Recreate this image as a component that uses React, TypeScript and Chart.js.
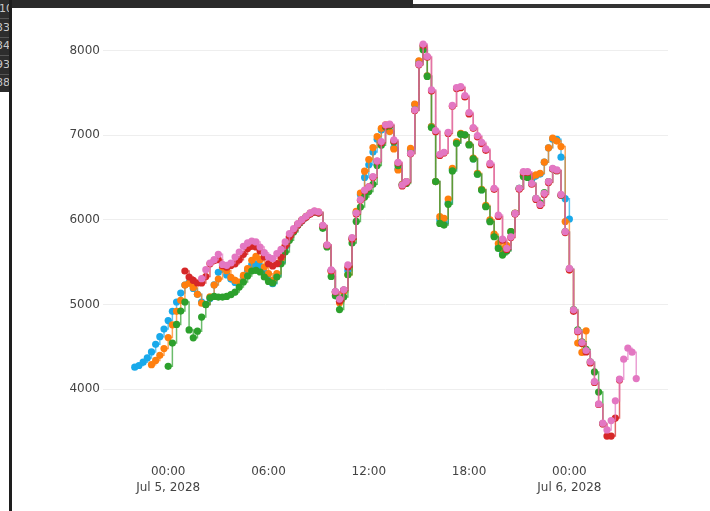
import React, { useEffect, useRef } from "react";
import { Chart, registerables } from "chart.js";

Chart.register(...registerables);

// Each run starts at its own hour (relative to Jul 5, 2028 00:00) and has a point every 15 minutes.
const seriesNames = ["trace 0", "trace 1", "trace 2", "trace 3", "trace 4"];
const seriesColors = ["#19a9ea", "#ff7f0e", "#2ca02c", "#d62728", "#e377c2"];
const startHours = [-2, -1, 0, 1, 2];
const stepHours = 0.25;

const blueValues = [
  4260, 4280, 4320, 4370, 4440, 4530, 4620, 4710, 4810, 4920, 5030, 5135, 5230, 5260, 5190, 5120,
  5030, 5000, 5070, 5233, 5380, 5420, 5350, 5300, 5260, 5260, 5330, 5400, 5470, 5480, 5455, 5380,
  5300, 5246, 5340, 5500, 5680, 5790, 5870, 5940, 5990, 6035, 6075, 6095, 6085, 5930, 5700, 5400,
  5150, 5040, 5170, 5400, 5780, 6090, 6300, 6500, 6650, 6800, 6950, 7060, 7110, 7050, 6850, 6600,
  6420, 6450, 6830, 7360, 7870, 8040, 7700, 7100, 6451, 6000, 5960, 6200, 6590, 6910, 7010, 7000,
  6890, 6720, 6540, 6355, 6160, 5985, 5810, 5680, 5600, 5640, 5860, 6076, 6372, 6520, 6520, 6480,
  6520, 6540, 6680, 6850, 6950, 6950, 6740, 6250, 6010,
];

const orangeValues = [
  4290, 4340, 4400, 4480, 4610, 4760, 4920, 5050, 5230, 5250, 5200, 5120, 5015, 5000, 5090, 5230,
  5300, 5440, 5400, 5320, 5285, 5266, 5344, 5423, 5522, 5569, 5530, 5443, 5364, 5285, 5364, 5530,
  5700, 5800, 5880, 5950, 6000, 6040, 6080, 6100, 6090, 5930, 5700, 5390, 5140, 5020, 5150, 5351,
  5780, 6100, 6316, 6574, 6712, 6853, 6983, 7081, 7121, 7042, 6837, 6589, 6420, 6450, 6845, 7365,
  7878, 8030, 7700, 7100, 6451, 6037, 6017, 6246, 6608, 6920, 7020, 7000, 6890, 6730, 6550, 6360,
  6170, 6000, 5830, 5720, 5650, 5700, 5860, 6080, 6370, 6540, 6530, 6510, 6530, 6550, 6680, 6850,
  6965, 6930, 6865, 5980, 5410, 4930, 4545, 4434, 4690,
];

const greenValues = [
  4270, 4545, 4765, 4923, 5030, 4700, 4607, 4686, 4852, 5001, 5080, 5096, 5088, 5088, 5096, 5116,
  5147, 5206, 5266, 5337, 5396, 5404, 5384, 5325, 5273, 5254, 5325, 5482, 5620, 5758, 5857, 5936,
  5995, 6034, 6074, 6093, 6081, 5900, 5680, 5331, 5103, 4940, 5088, 5351, 5725, 5981, 6150, 6270,
  6333, 6420, 6640, 6880, 7100, 7110, 6920, 6640, 6411, 6430, 6786, 7298, 7838, 8008, 7693, 7089,
  6451, 5958, 5938, 6183, 6577, 6904, 7011, 7003, 6884, 6719, 6538, 6352, 6155, 5978, 5800, 5662,
  5584, 5631, 5860, 6076, 6372, 6510, 6500, 6431, 6254, 6200, 6320, 6450, 6600, 6580, 6290, 5860,
  5420, 4940, 4700, 4560, 4470, 4322, 4204, 3967, 3595,
];

const redValues = [
  5396, 5325, 5285, 5254, 5254, 5330, 5480, 5520, 5530, 5460, 5440, 5460, 5480, 5530, 5593, 5660,
  5687, 5679, 5632, 5561, 5482, 5455, 5482, 5561, 5690, 5800, 5870, 5940, 5990, 6030, 6070, 6090,
  6080, 5930, 5700, 5400, 5150, 5040, 5170, 5440, 5770, 6070, 6230, 6340, 6390, 6500, 6690, 6910,
  7110, 7120, 6930, 6670, 6400, 6440, 6780, 7290, 7830, 8060, 7920, 7520, 7040, 6760, 6790, 7020,
  7340, 7550, 7560, 7450, 7250, 7080, 6980, 6900, 6820, 6650, 6360, 6040, 5760, 5650, 5790, 6070,
  6360, 6560, 6560, 6420, 6240, 6170, 6300, 6440, 6600, 6580, 6290, 5850, 5410, 4920, 4680, 4540,
  4440, 4310, 4080, 3820, 3590, 3447, 3447, 3659, 4110,
];

const pinkValues = [
  5305, 5411, 5490, 5530, 5593, 5474, 5463, 5490, 5561, 5620, 5687, 5727, 5750, 5739, 5679, 5612,
  5561, 5541, 5601, 5652, 5739, 5837, 5896, 5955, 6003, 6042, 6082, 6105, 6093, 5936, 5705, 5408,
  5154, 5064, 5174, 5469, 5790, 6080, 6240, 6350, 6390, 6510, 6695, 6924, 7121, 7129, 6944, 6679,
  6411, 6451, 6786, 7298, 7838, 8075, 7929, 7535, 7054, 6774, 6798, 7034, 7350, 7562, 7574, 7468,
  7267, 7089, 6995, 6916, 6837, 6668, 6372, 6057, 5773, 5662, 5800, 6076, 6372, 6569, 6569, 6431,
  6254, 6183, 6313, 6451, 6608, 6589, 6300, 5860, 5426, 4938, 4690, 4552, 4457, 4324, 4091, 3827,
  3599, 3520, 3630, 3863, 4119, 4355, 4485, 4438, 4126,
];

const seriesValues = [blueValues, orangeValues, greenValues, redValues, pinkValues];

const xTickValues = [0, 6, 12, 18, 24];
const xTickLabels = [
  ["00:00", "Jul 5, 2028"],
  ["06:00"],
  ["12:00"],
  ["18:00"],
  ["00:00", "Jul 6, 2028"],
];
const yTickValues = [4000, 5000, 6000, 7000, 8000];

const frameRowLabels = ["10", "33", "34", "93", "88"];

const FONT = "'DejaVu Sans', Verdana, sans-serif";

export default function App() {
  const canvasRef = useRef<HTMLCanvasElement | null>(null);

  useEffect(() => {
    if (!canvasRef.current) return;
    const datasets = seriesValues.map((vals, s) => ({
      label: seriesNames[s],
      data: vals.map((v, i) => ({ x: startHours[s] + i * stepHours, y: v })),
      borderColor: seriesColors[s] + "b3",
      backgroundColor: seriesColors[s],
      pointBackgroundColor: seriesColors[s],
      pointBorderWidth: 0,
      pointRadius: 3.6,
      borderWidth: 1.5,
      stepped: "before" as const,
      fill: false,
      order: seriesValues.length - 1 - s,
    }));

    const chart = new Chart(canvasRef.current, {
      type: "line",
      data: { datasets },
      options: {
        animation: false,
        responsive: false,
        maintainAspectRatio: false,
        events: [],
        layout: { padding: { left: 0, right: 42, top: 25, bottom: 0 } },
        plugins: { legend: { display: false }, tooltip: { enabled: false } },
        scales: {
          x: {
            type: "linear",
            min: -3.9,
            max: 29.9,
            grid: { display: false, drawTicks: false },
            border: { display: false },
            afterBuildTicks: (scale: any) => {
              scale.ticks = xTickValues.map((v) => ({ value: v }));
            },
            afterFit: (scale: any) => {
              scale.height = 54;
            },
            ticks: {
              autoSkip: false,
              maxRotation: 0,
              minRotation: 0,
              padding: 7.5,
              color: "#444",
              font: { family: FONT, size: 12, lineHeight: 1.3 },
              callback: (value: any) => {
                const idx = xTickValues.indexOf(Number(value));
                return idx >= 0 ? xTickLabels[idx] : "";
              },
            },
          },
          y: {
            type: "linear",
            min: 3200,
            max: 8300,
            grid: { color: "#eeeeee", lineWidth: 1, drawTicks: false },
            border: { display: false },
            afterBuildTicks: (scale: any) => {
              scale.ticks = yTickValues.map((v) => ({ value: v }));
            },
            afterFit: (scale: any) => {
              scale.width = 103;
            },
            ticks: {
              padding: 3,
              color: "#444",
              font: { family: FONT, size: 12 },
              callback: (value: any) => String(value),
            },
          },
        },
      },
    });
    return () => chart.destroy();
  }, []);

  return (
    <div
      style={{
        position: "fixed",
        left: 0,
        top: 0,
        width: 710,
        height: 511,
        background: "#ffffff",
        overflow: "hidden",
      }}
    >
      <canvas ref={canvasRef} width={710} height={511} style={{ display: "block" }} />
      {/* screenshot frame */}
      <div style={{ position: "absolute", left: 0, top: 0, width: 413, height: 8, background: "#2a2a2a" }} />
      <div style={{ position: "absolute", left: 413, top: 4, width: 297, height: 4, background: "#333333" }} />
      <div style={{ position: "absolute", left: 0, top: 0, width: 9, height: 92, background: "#2d2d2d", overflow: "hidden" }}>
        {frameRowLabels.map((t, i) => (
          <div
            key={i}
            style={{
              position: "absolute",
              right: -1 - (i === 0 ? 3 : 0),
              top: 2 + i * 18.5,
              fontFamily: FONT,
              fontSize: 11,
              lineHeight: "13px",
              color: "#c8c8c8",
              whiteSpace: "nowrap",
              borderBottom: "1px solid #555",
              paddingBottom: 3,
            }}
          >
            {t}
          </div>
        ))}
      </div>
      <div style={{ position: "absolute", left: 9, top: 0, width: 3, height: 511, background: "#1e1e1e" }} />
    </div>
  );
}
